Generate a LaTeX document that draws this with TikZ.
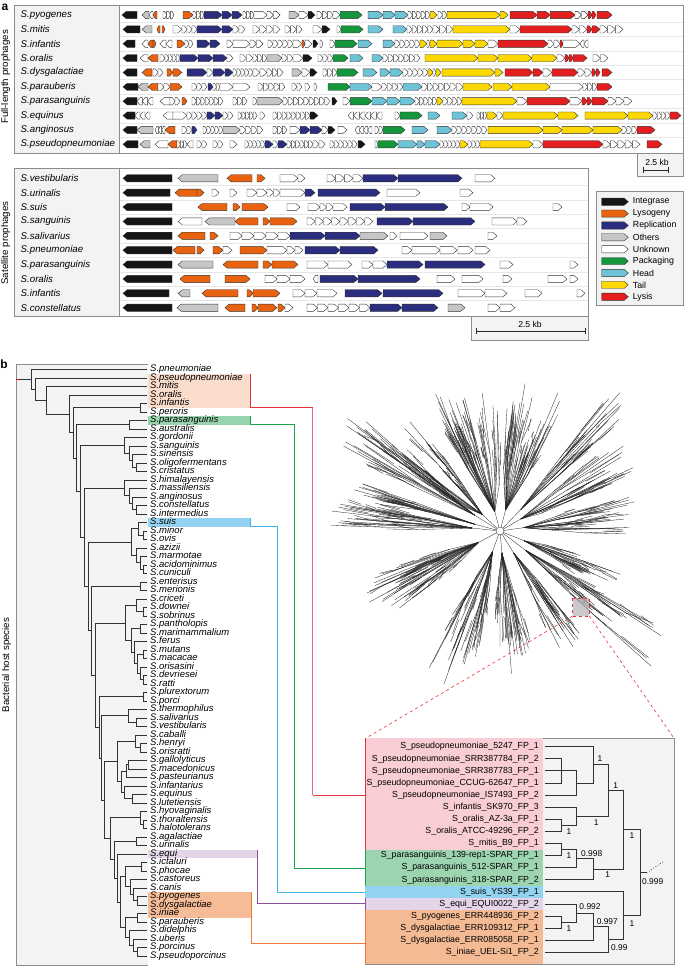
\documentclass[tikz,border=0pt]{standalone}
\usepackage{fontspec}
\setmainfont{Liberation Sans}
\definecolor{cK}{HTML}{151515}
\definecolor{cO}{HTML}{E8620F}
\definecolor{cB}{HTML}{2B2E7E}
\definecolor{cG}{HTML}{C6C6C6}
\definecolor{cW}{HTML}{FFFFFF}
\definecolor{cP}{HTML}{13963C}
\definecolor{cH}{HTML}{6EC3D6}
\definecolor{cY}{HTML}{FCD800}
\definecolor{cR}{HTML}{E21E1E}
\definecolor{fr}{HTML}{8C8C8C}
\definecolor{bgc}{HTML}{F3F3F3}
\definecolor{sep}{HTML}{E6E6E6}
\definecolor{lnRed}{HTML}{E8303A}
\definecolor{lnPink}{HTML}{EE5BA0}
\definecolor{lnGreen}{HTML}{1BA24B}
\definecolor{lnBlue}{HTML}{3FB1E5}
\definecolor{lnPurple}{HTML}{8E4E9F}
\definecolor{lnOrange}{HTML}{EF7A36}
\definecolor{bPeach}{HTML}{F9DCCB}
\definecolor{bGreen}{HTML}{97D3AC}
\definecolor{bBlue}{HTML}{93D3F1}
\definecolor{bLav}{HTML}{E3D5E7}
\definecolor{bOrange}{HTML}{F5BC97}
\definecolor{iPink}{HTML}{F8CDD3}
\definecolor{iGreen}{HTML}{9DD5B1}
\definecolor{iBlue}{HTML}{91D3F0}
\definecolor{iLav}{HTML}{E4D6E8}
\definecolor{iOrange}{HTML}{F4BA94}
\def\gh{3.6}
\def\ry{0}
\newcommand\gnR[3]{\pgfmathsetmacro\gtip{min(4.2,0.55*((#2)-(#1)))}\draw[gene,fill=#3] ({#1},{\ry-\gh}) -- ({(#2)-\gtip},{\ry-\gh}) -- ({#2},{\ry}) -- ({(#2)-\gtip},{\ry+\gh}) -- ({#1},{\ry+\gh}) -- cycle;}
\newcommand\gnL[3]{\pgfmathsetmacro\gtip{min(4.2,0.55*((#2)-(#1)))}\draw[gene,fill=#3] ({#2},{\ry-\gh}) -- ({(#1)+\gtip},{\ry-\gh}) -- ({#1},{\ry}) -- ({(#1)+\gtip},{\ry+\gh}) -- ({#2},{\ry+\gh}) -- cycle;}
\newcommand\wnR[3]{\pgfmathsetmacro\gw{((#2)-(#1))/(#3)}\foreach \q in {1,...,#3}{\gnR{(#1)+(\q-1)*\gw}{(#1)+\q*\gw}{cW}}}
\newcommand\wnL[3]{\pgfmathsetmacro\gw{((#2)-(#1))/(#3)}\foreach \q in {1,...,#3}{\gnL{(#1)+(\q-1)*\gw}{(#1)+\q*\gw}{cW}}}
\newcommand\tnd[5]{\draw[trl] (#3,#2) -- (#1,#2) -- (#1,#4) -- (#5,#4);}
\begin{document}
\begin{tikzpicture}[x=1pt,y=-1pt,
  gene/.style={draw=black!80,line width=0.4pt,line join=miter},
  frame/.style={draw=fr,line width=0.8pt},
  nm/.style={anchor=west,inner sep=0pt,font=\fontsize{9.7}{10}\selectfont\itshape},
  tl/.style={anchor=west,inner sep=0pt,text height=6.2pt,text depth=1.4pt,font=\fontsize{9.5}{10}\selectfont\itshape},
  il/.style={anchor=east,inner sep=0pt,font=\fontsize{8.8}{9}\selectfont},
  nb/.style={inner sep=0pt,font=\fontsize{8.4}{9}\selectfont},
  lg/.style={anchor=west,inner sep=0pt,font=\fontsize{8.8}{9}\selectfont},
  sc/.style={inner sep=0pt,font=\fontsize{8.6}{9}\selectfont},
  rot/.style={rotate=90,inner sep=0pt,font=\fontsize{9.7}{10}\selectfont},
  plab/.style={inner sep=0pt,font=\fontsize{12}{12}\selectfont\bfseries},
  trl/.style={draw=black!80,line width=0.9pt,line join=miter,line cap=rect},
  itl/.style={draw=black!80,line width=0.9pt,line join=miter,line cap=rect}]
\useasboundingbox (0,0) rectangle (685,966);
% ---------------- panel a -----------------
\node[plab] (pa) at (5,7) {a};
\node[rot] (flab) at (5.5,77) {Full-length prophages};
\node[rot] (slab) at (5.5,243) {Satellite prophages};
% full-length frame
\fill[white] (119.3,5) rectangle (683.5,153.3);
\fill[bgc] (14,5) rectangle (119.3,153.3);
\foreach \k in {1,...,9}{\draw[sep,line width=0.4pt] (119.3,{15+14.37*(\k-0.5)}) -- (683.5,{15+14.37*(\k-0.5)});}
\foreach \nm [count=\i] in {pyogenes,mitis,infantis,oralis,dysgalactiae,parauberis,parasanguinis,equinus,anginosus,pseudopneumoniae}{\node[nm] (fl\i) at (20.5,{15+14.37*(\i-1)}) {S.\nm};}
% row 1
\def\ry{15}
\gnL{122}{137}{cK}\gnL{142}{149}{cG}\wnL{149}{153}{1}\gnL{153}{157}{cO}\wnR{163}{174}{3}\gnR{183}{193}{cO}\wnR{193}{204}{3}
\gnR{204}{222}{cB}\gnR{222}{232}{cB}\gnR{232}{242}{cB}\wnR{243}{254}{3}\wnR{254}{267}{1}\wnR{267}{280}{2}\gnR{289}{299}{cG}\wnR{299}{308}{1}
\gnR{308}{315}{cK}\wnR{317}{333}{3}\wnR{333}{340}{1}\gnR{340}{362}{cP}\gnR{368}{383}{cH}\gnR{383}{395}{cH}\gnR{395}{408}{cH}\wnR{408}{430}{5}
\gnR{430}{437}{cY}\wnR{438}{447}{2}\gnR{447}{500}{cY}\gnR{500}{508}{cY}\gnR{510}{537}{cR}\gnR{537}{550}{cR}\gnR{550}{575}{cR}\wnR{575}{588}{2}
\gnR{588}{592}{cR}\gnR{592}{596}{cR}\gnR{597}{612}{cR}
% row 2
\def\ry{29.37}
\gnL{123}{140}{cK}\gnL{142}{152}{cG}\gnL{157}{160}{cO}\gnR{162}{165}{cO}\wnR{173}{182}{1}\wnR{182}{197}{3}\gnR{197}{222}{cB}\gnR{222}{233}{cB}
\wnR{233}{245}{2}\wnR{253}{280}{4}\wnR{285}{302}{3}\wnR{313}{322}{1}\gnR{322}{330}{cK}\wnR{337}{341}{1}\gnR{341}{363}{cP}\gnR{368}{383}{cH}
\gnR{393}{407}{cH}\wnR{407}{433}{5}\wnR{433}{453}{3}\gnR{453}{510}{cY}\wnR{510}{520}{1}\gnR{520}{572}{cR}\wnR{572}{587}{2}\gnR{587}{592}{cR}
\gnR{592}{600}{cR}\wnR{600}{623}{3}
% row 3
\def\ry{43.74}
\gnL{123}{135}{cK}\wnL{142}{148}{1}\gnL{148}{153}{cO}\gnR{153}{156}{cO}\wnL{160}{172}{2}\gnR{177}{185}{cO}\wnR{185}{193}{2}\gnR{197}{210}{cB}
\gnR{210}{220}{cB}\wnR{227}{233}{1}\wnR{233}{250}{1}\wnR{250}{263}{2}\wnR{268}{293}{5}\wnR{293}{302}{1}\gnR{302}{305}{cO}\wnR{305}{312}{1}
\gnR{313}{318}{cK}\wnR{320}{323}{1}\wnR{330}{335}{1}\gnR{335}{357}{cP}\gnR{358}{372}{cH}\gnR{383}{395}{cH}\wnR{395}{420}{5}\gnR{420}{427}{cY}
\wnR{427}{430}{1}\gnR{430}{437}{cY}\gnR{437}{463}{cY}\gnR{463}{475}{cY}\gnR{475}{488}{cY}\wnR{488}{498}{1}\gnR{498}{548}{cR}\wnR{548}{560}{2}
\gnR{560}{563}{cR}\wnR{563}{580}{1}\wnL{580}{588}{2}
% row 4
\def\ry{58.11}
\gnL{123}{137}{cK}\wnL{140}{148}{1}\gnL{148}{158}{cO}\wnR{160}{165}{1}\wnR{165}{180}{4}\gnR{180}{198}{cB}\gnR{198}{213}{cB}\gnR{213}{227}{cB}
\wnR{227}{233}{1}\wnR{240}{253}{2}\wnR{253}{267}{3}\gnR{267}{282}{cG}\wnR{282}{293}{2}\wnR{293}{303}{1}\gnR{303}{312}{cK}\wnR{318}{333}{3}
\gnR{333}{348}{cP}\gnR{350}{363}{cH}\gnR{372}{383}{cH}\wnR{383}{420}{7}\gnR{425}{478}{cY}\gnR{478}{498}{cY}\gnR{498}{532}{cY}\gnR{532}{557}{cY}
\wnR{557}{565}{1}\gnR{565}{569}{cR}\gnR{569}{573}{cR}\gnR{573}{587}{cR}\wnR{593}{608}{2}
% row 5
\def\ry{72.48}
\gnL{123}{137}{cK}\gnL{142}{152}{cO}\wnR{153}{163}{2}\gnR{167}{173}{cO}\gnR{173}{182}{cO}\gnR{187}{207}{cB}\wnR{207}{213}{1}\gnR{213}{225}{cB}
\gnR{225}{233}{cB}\wnR{233}{253}{5}\wnR{253}{267}{2}\wnR{267}{283}{3}\gnR{292}{302}{cG}\wnR{302}{310}{1}\gnR{310}{317}{cK}\wnR{323}{337}{3}
\gnR{337}{358}{cP}\gnR{363}{377}{cH}\gnR{380}{390}{cH}\gnR{390}{403}{cH}\wnR{403}{428}{5}\gnR{428}{433}{cY}\wnR{433}{436}{1}\gnR{436}{441}{cY}
\gnR{442}{495}{cY}\gnR{495}{503}{cY}\gnR{505}{533}{cR}\gnR{533}{543}{cR}\wnR{543}{552}{1}\gnR{552}{578}{cR}\wnR{578}{592}{2}\gnR{592}{596}{cR}
\gnR{596}{600}{cR}\gnR{602}{612}{cR}
% row 6
\def\ry{86.85}
\gnL{123}{138}{cK}\gnL{138}{148}{cG}\gnL{148}{158}{cO}\wnR{158}{170}{2}\gnR{170}{182}{cO}\wnR{192}{207}{3}\gnR{208}{213}{cB}\wnR{213}{220}{2}
\wnR{220}{233}{1}\wnR{233}{250}{1}\wnR{258}{285}{5}\wnR{292}{302}{2}\wnR{305}{310}{1}\wnR{314}{317}{1}\gnR{328}{350}{cP}\gnR{350}{372}{cH}
\wnR{372}{382}{1}\wnR{382}{403}{4}\gnR{403}{422}{cH}\wnR{422}{450}{5}\wnR{450}{463}{2}\gnR{463}{492}{cY}\gnR{493}{512}{cY}\gnR{512}{550}{cY}
\wnR{550}{583}{1}\wnR{583}{597}{3}\gnR{597}{612}{cR}
% row 7
\def\ry{101.22}
\gnL{123}{137}{cK}\wnL{137}{153}{3}\wnL{160}{170}{1}\wnR{170}{180}{2}\gnR{182}{187}{cO}\wnR{192}{223}{7}\wnR{233}{247}{3}\wnR{253}{257}{1}
\gnR{257}{283}{cG}\wnR{283}{330}{9}\gnR{332}{337}{cK}\wnR{343}{350}{1}\gnR{350}{372}{cP}\gnR{372}{387}{cH}\gnR{387}{400}{cH}\gnR{400}{415}{cH}
\wnR{415}{437}{5}\gnR{437}{443}{cY}\wnR{443}{462}{4}\gnR{462}{517}{cY}\wnR{517}{527}{1}\gnR{527}{570}{cR}\wnR{570}{582}{1}\gnR{582}{587}{cR}
\gnR{587}{592}{cR}\gnR{592}{608}{cR}\wnR{608}{632}{3}
% row 8
\def\ry{115.59}
\gnL{123}{135}{cK}\wnL{135}{150}{3}\wnL{163}{173}{1}\wnR{173}{187}{1}\wnR{187}{207}{4}\gnR{207}{215}{cB}\gnR{215}{223}{cB}\wnR{223}{233}{2}
\wnR{238}{257}{5}\wnR{260}{265}{1}\wnR{273}{310}{8}\gnR{310}{318}{cK}\wnL{348}{365}{3}\wnL{365}{382}{3}\wnR{395}{400}{1}\gnR{400}{422}{cP}
\gnR{428}{440}{cH}\gnR{452}{467}{cH}\wnR{467}{473}{1}\wnR{477}{487}{3}\gnR{487}{497}{cY}\wnR{497}{503}{1}\gnR{503}{558}{cY}\gnR{558}{578}{cY}
\gnR{585}{628}{cY}\gnR{628}{653}{cY}\wnR{653}{670}{4}\gnR{670}{681}{cR}
% row 9
\def\ry{129.96}
\gnL{123}{137}{cK}\gnL{137}{153}{cG}\wnL{155}{165}{3}\gnL{165}{175}{cO}\wnR{182}{192}{2}\gnR{192}{197}{cB}\wnR{203}{223}{5}\gnR{223}{240}{cG}
\wnR{240}{263}{4}\wnR{273}{287}{3}\wnR{290}{300}{1}\gnR{300}{310}{cB}\gnR{310}{322}{cB}\wnR{322}{328}{1}\gnR{328}{335}{cK}\wnR{338}{347}{1}
\wnL{355}{372}{4}\wnR{375}{383}{2}\gnR{383}{405}{cP}\gnR{412}{428}{cH}\gnR{437}{452}{cH}\wnR{452}{487}{7}\gnR{488}{543}{cY}\gnR{543}{562}{cY}
\gnR{562}{593}{cY}\gnR{593}{622}{cY}\wnR{622}{637}{3}\gnR{637}{655}{cR}
% row 10
\def\ry{144.33}
\gnL{123}{138}{cK}\gnL{140}{150}{cG}\wnL{155}{168}{1}\gnL{168}{177}{cO}\wnR{177}{187}{3}\wnL{187}{193}{1}\wnR{197}{207}{2}\wnR{213}{223}{2}
\wnR{230}{237}{1}\wnR{245}{265}{5}\gnR{265}{273}{cB}\wnR{273}{278}{1}\gnR{278}{287}{cB}\wnR{287}{313}{6}\wnR{313}{325}{2}\wnR{330}{357}{6}
\gnR{358}{365}{cK}\wnR{375}{378}{1}\gnR{378}{398}{cP}\gnR{398}{417}{cH}\gnR{417}{425}{cH}\gnR{425}{440}{cH}\wnR{440}{460}{5}\gnR{460}{468}{cY}
\wnR{468}{480}{3}\gnR{480}{533}{cY}\wnR{533}{543}{1}\gnR{543}{603}{cR}\wnR{603}{640}{5}\gnR{647}{662}{cR}
\draw[frame] (14,5) rectangle (683.5,153.3);
\draw[frame] (119.3,5) -- (119.3,153.3);
% scale bar 1
\draw[frame,fill=bgc] (637.7,153.3) rectangle (683.5,176.7);
\node[sc] (sc1) at (657,162) {2.5 kb};
\draw[black!85,line width=0.8pt] (643.3,170) -- (668.3,170) (643.3,167.3) -- (643.3,172.7) (668.3,167.3) -- (668.3,172.7);
% satellite frame
\fill[white] (119.3,168.3) rectangle (588,316.7);
\fill[bgc] (14,168.3) rectangle (119.3,316.7);
\foreach \k in {1,...,9}{\draw[sep,line width=0.5pt] (119.3,{178.3+14.38*(\k-0.5)}) -- (588,{178.3+14.38*(\k-0.5)});}
\foreach \nm [count=\i] in {vestibularis,urinalis,suis,sanguinis,salivarius,pneumoniae,parasanguinis,oralis,infantis,constellatus}{\node[nm] (sl\i) at (20.5,{178.3+14.38*(\i-1)}) {S.\nm};}
\def\ry{178.3}
\gnL{123}{172}{cK}\gnL{178}{218}{cG}\gnL{227}{252}{cO}\gnR{257}{265}{cO}\wnR{280}{298}{1}\wnR{298}{305}{1}\wnR{327}{353}{3}\wnR{353}{363}{1}
\gnR{363}{398}{cB}\gnR{398}{462}{cB}\wnR{475}{495}{1}
\def\ry{192.68}
\gnL{123}{170}{cK}\gnL{175}{197}{cO}\gnR{197}{204}{cO}\wnR{212}{219}{1}\wnR{230}{237}{1}\wnR{247}{267}{2}\wnR{267}{280}{2}\wnR{280}{305}{1}
\gnR{305}{315}{cB}\gnR{318}{380}{cB}\wnR{387}{420}{1}\wnR{460}{473}{1}
\def\ry{207.06}
\gnL{123}{172}{cK}\gnL{198}{227}{cO}\gnR{233}{240}{cO}\gnR{242}{268}{cO}\wnR{287}{300}{1}\wnR{308}{320}{1}\wnR{320}{333}{2}\wnR{333}{347}{1}
\gnR{350}{385}{cB}\gnR{385}{448}{cB}\wnR{462}{470}{1}\wnR{470}{493}{1}\wnR{553}{562}{1}
\def\ry{221.44}
\gnL{123}{172}{cK}\wnL{178}{202}{1}\gnL{205}{235}{cG}\gnL{235}{258}{cO}\gnR{263}{270}{cO}\gnR{270}{297}{cO}\wnR{307}{373}{8}\gnR{377}{413}{cB}
\gnR{413}{475}{cB}\wnR{492}{517}{1}\wnR{517}{527}{1}
\def\ry{235.82}
\gnL{123}{172}{cK}\gnL{178}{205}{cO}\gnR{210}{218}{cO}\wnR{230}{290}{5}\gnR{290}{325}{cB}\gnR{325}{360}{cB}\gnR{360}{388}{cG}\wnR{390}{397}{1}
\wnR{400}{428}{1}\gnR{430}{447}{cG}\wnR{488}{497}{1}
\def\ry{250.2}
\gnL{123}{172}{cK}\gnL{173}{195}{cO}\gnR{197}{204}{cO}\gnR{213}{223}{cO}\wnR{223}{232}{1}\gnR{240}{267}{cO}\wnR{267}{287}{1}\wnR{287}{303}{2}
\gnR{305}{340}{cB}\gnR{340}{378}{cB}\wnR{402}{412}{1}\wnR{412}{440}{1}\wnR{440}{457}{1}\wnR{458}{473}{1}\wnR{475}{490}{1}
\def\ry{264.58}
\gnL{123}{172}{cK}\gnL{178}{213}{cG}\gnL{223}{258}{cO}\gnR{263}{272}{cO}\gnR{272}{298}{cO}\wnR{307}{328}{1}\wnR{328}{352}{1}\wnR{362}{373}{1}
\wnR{373}{387}{1}\gnR{387}{423}{cB}\gnR{425}{485}{cB}\wnR{500}{513}{1}\wnR{570}{578}{1}
\def\ry{278.96}
\gnL{123}{172}{cK}\gnL{180}{210}{cO}\gnR{225}{250}{cO}\wnR{265}{277}{1}\wnR{277}{290}{1}\wnR{290}{305}{1}\wnL{313}{318}{1}\gnR{320}{358}{cB}
\gnR{358}{420}{cB}\wnR{437}{455}{1}\wnR{462}{483}{1}\wnR{503}{512}{1}\wnR{548}{567}{1}\wnR{570}{578}{1}
\def\ry{293.34}
\gnL{123}{169}{cK}\gnL{178}{190}{cG}\gnL{202}{238}{cO}\gnR{247}{253}{cO}\gnR{253}{280}{cO}\wnR{293}{317}{2}\wnR{317}{337}{1}\gnR{345}{382}{cB}
\gnR{383}{443}{cB}\wnR{458}{485}{1}\wnR{485}{507}{1}\wnR{525}{542}{1}\wnR{577}{585}{1}
\def\ry{307.72}
\gnL{123}{172}{cK}\gnL{177}{218}{cG}\gnL{225}{245}{cO}\gnR{252}{258}{cO}\gnR{258}{277}{cO}\gnR{278}{285}{cO}\wnR{285}{293}{1}\wnR{307}{370}{6}
\gnR{370}{402}{cB}\gnR{402}{438}{cB}\gnR{448}{465}{cG}\wnR{488}{500}{1}\wnR{500}{515}{1}
\draw[frame] (14,168.3) rectangle (588,316.7);
\draw[frame] (119.3,168.3) -- (119.3,316.7);
% scale bar 2
\draw[frame,fill=bgc] (471.7,316.7) rectangle (588,340);
\node[sc] (sc2) at (530,324) {2.5 kb};
\draw[black!85,line width=0.8pt] (476.7,331) -- (585,331) (476.7,328.3) -- (476.7,333.7) (585,328.3) -- (585,333.7);
% legend
\draw[frame,fill=bgc] (596.7,191.7) rectangle (683.5,305);
\foreach \c/\t [count=\i] in {cK/Integrase,cO/Lysogeny,cB/Replication,cG/Others,cW/Unknown,cP/Packaging,cH/Head,cY/Tail,cR/Lysis}{
  \pgfmathsetmacro\ry{201.7+11.88*(\i-1)}
  \gnR{601.7}{628.3}{\c}
  \node[lg] (lg\i) at (632.7,\ry) {\t};}
% ---------------- panel b -----------------
\node[plab] (pb) at (4,364) {b};
\node[rot] (blab) at (6.5,665) {Bacterial host species};
\fill[bgc] (16,364.3) rectangle (148,965);
\draw[frame] (148,364.3) -- (16,364.3) -- (16,965) -- (148,965);
% highlight bands and connectors
\fill[bPeach] (148,373.75) rectangle (250,407.75);
\fill[bGreen] (148,416.25) rectangle (250,424.75);
\fill[bBlue] (148,518.25) rectangle (250.7,526.75);
\fill[bLav] (148,849.75) rectangle (257.3,858.25);
\fill[bOrange] (148,892.25) rectangle (251.7,917.75);
% inset box
\draw[frame,fill=bgc] (365,738) rectangle (674,964);
\fill[iPink] (365,738) rectangle (543,849.55);
\fill[iGreen] (365,849.55) rectangle (543,885.85);
\fill[iBlue] (365,885.85) rectangle (543,897.95);
\fill[iLav] (365,897.95) rectangle (543,910.05);
\fill[iOrange] (365,910.05) rectangle (543,963.6);
\coordinate (rA) at (250,373.75); \coordinate (rB) at (250,407.75); \coordinate (rC) at (312.7,407.75); \coordinate (rD) at (312.7,795); \coordinate (rE) at (365,795);
\draw[lnRed,line width=0.9pt] (rA) -- (rB) -- (rC);
\draw[lnPink,line width=0.9pt] (rC) -- (rD);
\draw[lnRed,line width=0.9pt] (rD) -- (rE);
\draw[lnRed,line width=0.9pt] (365,738) -- (365,849.55);
\draw[lnGreen,line width=0.9pt] (250,416.25) -- (250,424.75) -- (294,424.75) -- (294,868.3) -- (365,868.3);
\draw[lnGreen,line width=0.9pt] (365,849.55) -- (365,885.85);
\draw[lnBlue,line width=0.9pt] (250.7,518.25) -- (250.7,526.75) -- (277.7,526.75) -- (277.7,892.3) -- (365,892.3);
\draw[lnPurple,line width=0.9pt] (257.3,849.75) -- (257.3,903.3) -- (365,903.3);
\draw[lnPurple,line width=0.9pt] (365,897.95) -- (365,910.05);
\draw[lnOrange,line width=0.9pt] (251.7,892.25) -- (251.7,943.3) -- (365,943.3);
\draw[lnOrange,line width=0.9pt] (365,910.05) -- (365,963.6);
% species tree
\begin{scope}[shift={(0pt,-361pt)},x=1pt,y=-8.5pt]
\foreach \nm [count=\i] in {pneumoniae,pseudopneumoniae,mitis,oralis,infantis,peroris,parasanguinis,australis,gordonii,sanguinis,sinensis,oligofermentans,cristatus,himalayensis,massiliensis,anginosus,constellatus,intermedius,suis,minor,ovis,azizii,marmotae,acidominimus,cuniculi,enterisus,merionis,criceti,downei,sobrinus,pantholopis,marimammalium,ferus,mutans,macacae,orisasini,devriesei,ratti,plurextorum,porci,thermophilus,salivarius,vestibularis,caballi,henryi,orisratti,gallolyticus,macedonicus,pasteurianus,infantarius,equinus,lutetiensis,hyovaginalis,thoraltensis,halotolerans,agalactiae,urinalis,equi,ictaluri,phocae,castoreus,canis,pyogenes,dysgalactiae,iniae,parauberis,didelphis,uberis,porcinus,pseudoporcinus}{\node[tl] (sp\i) at (150,\i) {S.\nm};}
\tnd{140}{5}{147}{6}{147}
\tnd{129}{7}{147}{8}{147}
\tnd{136.7}{12}{147}{13}{147}\tnd{132.3}{11}{147}{12.5}{136.7}\tnd{129}{10}{147}{11.75}{132.3}\tnd{124}{9}{147}{10.875}{129}
\tnd{136.7}{17}{147}{18}{147}\tnd{132.3}{16}{147}{17.5}{136.7}\tnd{129}{15}{147}{16.75}{132.3}\tnd{124}{14}{147}{15.875}{129}
\tnd{143.3}{20}{147}{21}{147}\tnd{138.3}{19}{147}{20.5}{143.3}\tnd{143.3}{24}{147}{25}{147}\tnd{140}{23}{147}{24.5}{143.3}\tnd{136}{22}{147}{23.75}{140}\tnd{131.7}{19.75}{138.3}{22.875}{136}
\tnd{140}{26}{147}{27}{147}
\tnd{143.3}{29}{147}{30}{147}\tnd{136}{28}{147}{29.5}{143.3}\tnd{140}{31}{147}{32}{147}\tnd{143.3}{34}{147}{35}{147}\tnd{143.3}{37}{147}{38}{147}\tnd{140}{36}{147}{37.5}{143.3}
\tnd{137.7}{34.5}{143.3}{36.75}{140}\tnd{134}{33}{147}{35.625}{137.7}\tnd{131}{31.5}{140}{34.3125}{134}\tnd{125}{28.75}{136}{32.906}{131}
\tnd{143}{39}{147}{40}{147}
\tnd{136}{42}{147}{43}{147}\tnd{128.3}{41}{147}{42.5}{136}
\tnd{140}{45}{147}{46}{147}\tnd{135}{44}{147}{45.5}{140}\tnd{128.3}{47}{147}{48}{147}\tnd{126}{47.5}{128.3}{49}{147}\tnd{132.7}{51}{147}{52}{147}\tnd{124}{50}{147}{51.5}{132.7}\tnd{121.7}{48.25}{126}{50.75}{124}\tnd{117.3}{44.75}{135}{49.5}{121.7}
\tnd{143.3}{54}{147}{55}{147}\tnd{140}{53}{147}{54.5}{143.3}
\tnd{136}{56}{147}{57}{147}
\tnd{141.7}{59}{147}{60}{147}\tnd{137.3}{63}{147}{64}{147}\tnd{133.3}{62}{147}{63.5}{137.3}\tnd{130}{61}{147}{62.75}{133.3}\tnd{125}{59.5}{141.7}{61.875}{130}
\tnd{137.3}{65}{147}{66}{147}\tnd{137.3}{69}{147}{70}{147}\tnd{133.3}{68}{147}{69.5}{137.3}\tnd{129.3}{67}{147}{68.75}{133.3}\tnd{125}{65.5}{137.3}{67.875}{129.3}
\tnd{120.7}{60.6875}{125}{66.6875}{125}\tnd{117.3}{58}{147}{63.6875}{120.7}
\tnd{114}{56.5}{136}{60.84375}{117.3}
\tnd{110}{53.75}{140}{58.672}{114}
\tnd{104.7}{47.125}{117.3}{56.211}{110}
\tnd{101.5}{41.75}{128.3}{51.668}{104.7}
\tnd{99}{39.5}{143}{46.709}{101.5}
\tnd{95.8}{30.828}{125}{43.105}{99}
\tnd{91.5}{26.5}{140}{36.966}{95.8}
\tnd{88}{21.3125}{131.7}{31.733}{91.5}
\tnd{84.3}{14.9375}{124}{26.523}{88}
\tnd{80.7}{9.9375}{124}{20.730}{84.3}
\tnd{76.7}{7.5}{129}{15.334}{80.7}
\tnd{73}{5.5}{140}{11.417}{76.7}
\tnd{69}{4}{147}{8.459}{73}
\tnd{46.7}{3}{147}{6.229}{69}
\tnd{35.7}{2}{147}{4.615}{46.7}
\tnd{31.3}{1}{147}{3.307}{35.7}
\draw[trl] (19,2.154) -- (31.3,2.154);
\draw[red,line width=0.9pt] (16.4,2.154) -- (19,2.154);
\end{scope}
% unrooted tree
\begin{scope}[shift={(500pt,-531pt)},x=1pt,y=1pt,line width=0.32pt]
\pgfmathsetseed{2024}
\draw[black!85] (0,0) circle (4);
\foreach \ca/\cs/\rs/\lmin/\lmax/\n in {75/12/22/80/150/26,105/14/20/80/157/30,137/10/24/80/150/18,148/6/30/120/194/12,165/5/26/100/155/10,174/5/28/110/173/18,208/10/24/70/150/28,250/10/22/70/165/22,275/10/22/70/150/20,302/6/26/80/137/12,323/5/32/90/213/14,338/6/26/80/132/14,8/10/24/80/140/18,30/8/24/90/150/14,46/5/30/120/185/10}{
  \draw[black!85] (\ca:4) -- (\ca:\rs);
  \foreach \k in {1,...,\n}{
    \pgfmathsetmacro\uA{\ca+\cs*rand}
    \pgfmathsetmacro\uL{\lmin+(\lmax-\lmin)*rnd}
    \pgfmathsetmacro\uM{\rs+(\uL-\rs)*(0.3+0.45*rnd)}
    \pgfmathsetmacro\uB{\uA+2.5*rand}
    \pgfmathsetmacro\uN{\uM+(\uL-\uM)*(0.35+0.6*rnd)}
    \pgfmathsetmacro\uC{\uB+1.5*rand}
    \pgfmathsetmacro\uP{\uN+(\uL-\uN)*0.5*rnd}
    \draw[black!85] (\ca:\rs) -- (\uA:\uM) -- (\uA:\uL);
    \draw[black!85] (\uA:\uM) -- (\uB:\uN);
    \draw[black!85] (\uB:{(\uM+\uN)/2}) -- (\uC:\uP);
  }
}
\end{scope}
% zoom box and dashed lines
\draw[lnRed,dashed,line width=0.6pt,fill=black!30,fill opacity=0.7] (572.7,598.3) rectangle (589.3,616);
\coordinate (zl) at (572.7,616); \coordinate (zr) at (589.3,616);
\draw[lnRed,dashed,line width=0.6pt] (zl) -- (367,737.5);
\draw[lnRed,dashed,line width=0.6pt] (zr) -- (673.5,737.5);
% inset tree
\begin{scope}[shift={(0pt,-734.6pt)},x=1pt,y=-12.1pt]
\foreach \lab [count=\i] in {S\_pseudopneumoniae\_5247\_FP\_1,S\_pseudopneumoniae\_SRR387784\_FP\_2,S\_pseudopneumoniae\_SRR387783\_FP\_1,S\_pseudopneumoniae\_CCUG-62647\_FP\_1,S\_pseudopneumoniae\_IS7493\_FP\_2,S\_infantis\_SK970\_FP\_3,S\_oralis\_AZ-3a\_FP\_1,S\_oralis\_ATCC-49296\_FP\_2,S\_mitis\_B9\_FP\_1,S\_parasanguinis\_139-rep1-SPAR\_FP\_1,S\_parasanguinis\_512-SPAR\_FP\_1,S\_parasanguinis\_318-SPAR\_FP\_2,S\_suis\_YS39\_FP\_1,S\_equi\_EQUI0022\_FP\_2,S\_pyogenes\_ERR448936\_FP\_2,S\_dysgalactiae\_ERR109312\_FP\_1,S\_dysgalactiae\_ERR085058\_FP\_1,S\_iniae\_UEL-Si1\_FP\_2}{\node[il] (in\i) at (539,\i) {\lab};}
\tnd{561.7}{2}{545}{4}{545}\draw[itl] (545,3) -- (561.7,3);
\tnd{576.7}{3}{561.7}{5}{545}
\tnd{593.3}{1}{545}{4}{576.7}
\tnd{561.7}{7}{545}{8}{545}
\tnd{576.7}{6}{545}{7.5}{561.7}
\tnd{608.3}{2.5}{593.3}{6.75}{576.7}
\tnd{561.7}{9}{545}{10}{545}
\tnd{576.7}{9.5}{561.7}{11}{545}
\tnd{593.3}{10.25}{576.7}{12}{545}
\tnd{623.3}{4.625}{608.3}{11.125}{593.3}
\tnd{561.7}{15}{545}{16}{545}
\tnd{576.7}{14}{545}{15.5}{561.7}
\tnd{593.3}{14.75}{576.7}{17}{545}
\tnd{608.3}{15.875}{593.3}{18}{545}
\tnd{623.3}{13}{545}{16.9375}{608.3}
\tnd{640}{7.875}{623.3}{14.96875}{623.3}
\draw[itl] (640,11.42) -- (646.7,11.42);
\draw[black!80,line width=0.7pt,dotted] (646.7,11.42) -- (663.3,10.5);
\end{scope}
\node[nb] (v1) at (600,758.7) {1};
\node[nb] (v2) at (615.7,785.3) {1};
\node[nb] (v3) at (596.3,823) {1};
\node[nb] (v4) at (569,831.3) {1};
\node[nb] (v5) at (632,836) {1};
\node[nb] (v6) at (569,855.7) {1};
\node[nb] (v7) at (591.7,853.3) {0.998};
\node[nb] (v8) at (607.7,875) {1};
\node[nb] (v9) at (652.7,882) {0.999};
\node[nb] (v10) at (590,906.7) {0.992};
\node[nb] (v11) at (607.3,921.7) {0.997};
\node[nb] (v12) at (632,923.3) {1};
\node[nb] (v13) at (569,928.3) {1};
\node[nb] (v14) at (619.3,947.3) {0.99};
\end{tikzpicture}
\end{document}
